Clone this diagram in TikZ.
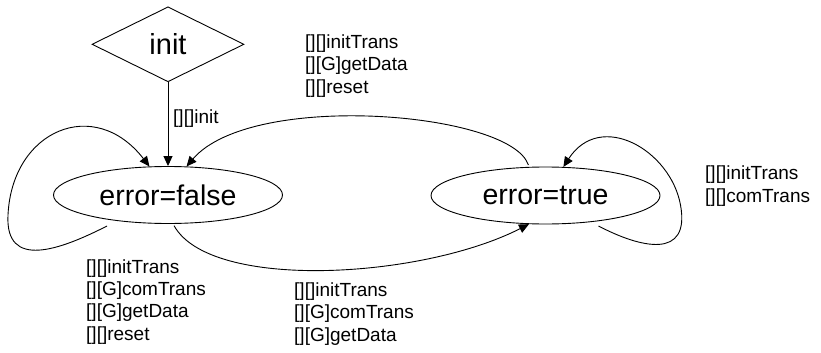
\documentclass[tikz,border=0pt]{standalone}
\usepackage{fontspec}
\setmainfont{Liberation Sans}
\usetikzlibrary{shapes.geometric,arrows.meta}

\tikzset{
  statenode/.style={draw, ellipse, line width=0.9pt, inner sep=0pt,
    minimum width=229pt, minimum height=57pt,
    font=\fontsize{28.5}{32}\selectfont},
  startnode/.style={draw, diamond, line width=0.9pt, inner sep=0pt,
    minimum width=152pt, minimum height=75pt,
    font=\fontsize{29}{32}\selectfont},
  trans/.style={line width=0.9pt, -{Triangle[length=10pt,width=9pt]}},
  % placed by the baseline of the last line
  guard/.style={anchor=base west, inner sep=0pt, align=left,
    font=\fontsize{19}{22.2}\selectfont},
}
% line break inside a label whose next line begins with a bracket
\newcommand{\nl}{\\{}}

\begin{document}
\begin{tikzpicture}[x=1pt,y=-1pt]
  \useasboundingbox (0,0) rectangle (821,353);

  % states
  \node[startnode] (init) at (168,44.3) {init};
  \node[statenode] (f) at (168,195) {error=false};
  \node[statenode] (t) at (545.5,195.5) {error=true};

  % transitions
  \draw[trans] (init.south) -- (f.north);
  \draw[trans, shorten <=2pt] (t.120)
    .. controls +(-18,-55) and +(65,-76) .. (f.57);
  \draw[trans, shorten <=2pt] (f.-80)
    .. controls +(37,67) and +(-108,55) .. (t.-120);
  \draw[trans] ([shift={(-61,31)}]f.center)
    .. controls +(-47,24) and +(-3,55) .. ([shift={(-160,20)}]f.center)
    .. controls +(4,-85) and +(-55,-71) .. (f.123);
  \draw[trans] ([shift={(53,30.5)}]t.center)
    .. controls +(42,22) and +(10,55) .. ([shift={(135,9.5)}]t.center)
    .. controls +(-10,-55) and +(37,-57) .. (t.58);

  % transition labels
  \node[guard] (linit) at (173,123) {[][]init};
  \node[guard] (ltop) at (305,93) {[][]initTrans\nl[][G]getData\nl[][]reset};
  \node[guard] (lself f) at (86,340) {[][]initTrans\nl[][G]comTrans\nl[][G]getData\nl[][]reset};
  \node[guard] (lbottom) at (294,341) {[][]initTrans\nl[][G]comTrans\nl[][G]getData};
  \node[guard] (lself t) at (705,202) {[][]initTrans\nl[][]comTrans};
\end{tikzpicture}
\end{document}
